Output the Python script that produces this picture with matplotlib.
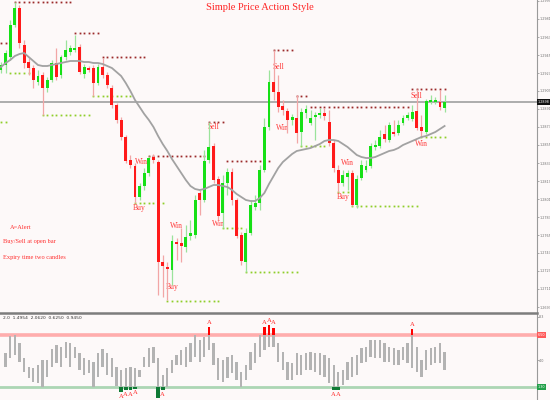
import numpy as np
import matplotlib
matplotlib.use("Agg")
import matplotlib.pyplot as plt

# ---------------- data (price candles) ----------------
opens = [1.2930, 1.2935, 1.2943, 1.2975, 1.2992, 1.2955, 1.2938, 1.2932, 1.2918, 1.2925,
         1.2912, 1.2920, 1.2937, 1.2925, 1.2943, 1.2948, 1.2950, 1.2953, 1.2926, 1.2932,
         1.2932, 1.2917, 1.2933, 1.2925, 1.2912, 1.2895, 1.2880, 1.2863, 1.2840, 1.2834,
         1.2803, 1.2814, 1.2827, 1.2843, 1.2838, 1.2738, 1.2733, 1.2730, 1.2758, 1.2757,
         1.2753, 1.2764, 1.2765, 1.2807, 1.2800, 1.2840, 1.2854, 1.2821, 1.2787, 1.2817,
         1.2828, 1.2800, 1.2765, 1.2738, 1.2767, 1.2793, 1.2797, 1.2830, 1.2873, 1.2918,
         1.2908, 1.2894, 1.2889, 1.2880, 1.2882, 1.2868, 1.2887, 1.2877, 1.2883, 1.2885,
         1.2887, 1.2878, 1.2857, 1.2830, 1.2817, 1.2823, 1.2827, 1.2795, 1.2822, 1.2830,
         1.2834, 1.2853, 1.2854, 1.2866, 1.2860, 1.2868, 1.2867, 1.2877, 1.2882, 1.2881,
         1.2889, 1.2873, 1.2868, 1.2898, 1.2898, 1.2898, 1.2892]
closes = [1.2935, 1.2947, 1.2975, 1.2992, 1.2957, 1.2937, 1.2932, 1.2920, 1.2924, 1.2912,
          1.2920, 1.2937, 1.2923, 1.2943, 1.2950, 1.2952, 1.2952, 1.2928, 1.2933, 1.2930,
          1.2917, 1.2933, 1.2925, 1.2915, 1.2895, 1.2880, 1.2863, 1.2839, 1.2835, 1.2803,
          1.2814, 1.2827, 1.2842, 1.2840, 1.2738, 1.2734, 1.2731, 1.2759, 1.2756, 1.2754,
          1.2763, 1.2767, 1.2800, 1.2800, 1.2839, 1.2853, 1.2820, 1.2784, 1.2817, 1.2828,
          1.2800, 1.2764, 1.2739, 1.2767, 1.2795, 1.2797, 1.2830, 1.2873, 1.2918, 1.2908,
          1.2893, 1.2890, 1.2880, 1.2883, 1.2867, 1.2888, 1.2891, 1.2882, 1.2885, 1.2887,
          1.2884, 1.2857, 1.2832, 1.2817, 1.2825, 1.2827, 1.2795, 1.2821, 1.2835, 1.2834,
          1.2854, 1.2855, 1.2863, 1.2861, 1.2875, 1.2866, 1.2875, 1.2882, 1.2885, 1.2888,
          1.2872, 1.2869, 1.2899, 1.2900, 1.2900, 1.2893, 1.2898]
highs = [1.2938, 1.2950, 1.2980, 1.2998, 1.2995, 1.2960, 1.2942, 1.2935, 1.2930, 1.2928,
         1.2923, 1.2940, 1.2952, 1.2945, 1.2960, 1.2955, 1.2965, 1.2956, 1.2936, 1.2934,
         1.2935, 1.2936, 1.2942, 1.2928, 1.2915, 1.2897, 1.2883, 1.2865, 1.2845, 1.2837,
         1.2817, 1.2832, 1.2844, 1.2846, 1.2840, 1.2745, 1.2738, 1.2765, 1.2762, 1.2772,
         1.2775, 1.2780, 1.2805, 1.2810, 1.2850, 1.2878, 1.2857, 1.2824, 1.2825, 1.2832,
         1.2832, 1.2802, 1.2768, 1.2772, 1.2800, 1.2805, 1.2835, 1.2882, 1.2930, 1.2950,
         1.2925, 1.2900, 1.2892, 1.2886, 1.2905, 1.2892, 1.2895, 1.2890, 1.2888, 1.2892,
         1.2892, 1.2890, 1.2860, 1.2835, 1.2830, 1.2830, 1.2830, 1.2825, 1.2840, 1.2840,
         1.2857, 1.2860, 1.2870, 1.2875, 1.2878, 1.2880, 1.2880, 1.2885, 1.2888, 1.2895,
         1.2911, 1.2885, 1.2901, 1.2905, 1.2903, 1.2910, 1.2905]
lows = [1.2927, 1.2927, 1.2940, 1.2973, 1.2952, 1.2932, 1.2925, 1.2912, 1.2915, 1.2885,
        1.2908, 1.2918, 1.2920, 1.2922, 1.2940, 1.2945, 1.2948, 1.2926, 1.2922, 1.2928,
        1.2904, 1.2915, 1.2922, 1.2912, 1.2892, 1.2877, 1.2860, 1.2837, 1.2832, 1.2797,
        1.2800, 1.2810, 1.2824, 1.2837, 1.2705, 1.2703, 1.2700, 1.2715, 1.2740, 1.2738,
        1.2748, 1.2760, 1.2762, 1.2785, 1.2798, 1.2837, 1.2817, 1.2780, 1.2772, 1.2805,
        1.2795, 1.2762, 1.2735, 1.2728, 1.2765, 1.2790, 1.2790, 1.2828, 1.2870, 1.2900,
        1.2888, 1.2885, 1.2867, 1.2875, 1.2857, 1.2854, 1.2882, 1.2875, 1.2860, 1.2882,
        1.2880, 1.2854, 1.2828, 1.2808, 1.2814, 1.2810, 1.2794, 1.2792, 1.2820, 1.2828,
        1.2832, 1.2850, 1.2852, 1.2858, 1.2858, 1.2864, 1.2865, 1.2875, 1.2880, 1.2879,
        1.2870, 1.2863, 1.2866, 1.2896, 1.2896, 1.2890, 1.2888]
ma_values = [1.2933, 1.2937, 1.2940, 1.2944, 1.2946, 1.2947, 1.2943, 1.2939, 1.2935, 1.2934,
             1.2934, 1.2935, 1.2936, 1.2937, 1.2938, 1.2939, 1.2939, 1.2939, 1.2938, 1.2938,
             1.2937, 1.2937, 1.2936, 1.2934, 1.2932, 1.2928, 1.2924, 1.2917, 1.2909, 1.2900,
             1.2893, 1.2886, 1.2880, 1.2873, 1.2864, 1.2856, 1.2849, 1.2841, 1.2834, 1.2827,
             1.2820, 1.2814, 1.2811, 1.2810, 1.2811, 1.2813, 1.2815, 1.2815, 1.2814, 1.2813,
             1.2810, 1.2806, 1.2803, 1.2800, 1.2799, 1.2799, 1.2802, 1.2807, 1.2816, 1.2824,
             1.2832, 1.2838, 1.2842, 1.2846, 1.2849, 1.2850, 1.2851, 1.2852, 1.2854, 1.2856,
             1.2859, 1.2860, 1.2860, 1.2859, 1.2856, 1.2853, 1.2849, 1.2845, 1.2843, 1.2842,
             1.2842, 1.2843, 1.2845, 1.2847, 1.2849, 1.2850, 1.2852, 1.2855, 1.2857, 1.2859,
             1.2861, 1.2863, 1.2864, 1.2866, 1.2868, 1.2871, 1.2874]
current_price = 1.2898

# resistance (sell) dotted levels: (price, first candle, last candle)
sell_levels = [(1.2998, 3, 15), (1.2957, 0, 1), (1.2967, 16, 21), (1.2943, 22, 31),
               (1.2844, 32, 44), (1.2878, 45, 48), (1.2839, 49, 58), (1.2950, 59, 63),
               (1.2904, 64, 66), (1.2893, 67, 88), (1.2911, 89, 96)]
# support (buy) dotted levels
buy_levels = [(1.2878, 0, 1), (1.2927, 2, 6), (1.2885, 9, 19), (1.2904, 20, 28),
              (1.2797, 29, 35), (1.2699, 36, 47), (1.2772, 48, 52), (1.2728, 53, 64),
              (1.2854, 65, 70), (1.2808, 73, 75), (1.2794, 76, 90), (1.2863, 91, 96)]

# signal labels: (text, candle index, price)
signal_text = ["Sell", "Win", "Sell", "Win", "Buy", "Win", "Buy", "Win",
               "Win", "Buy", "Sell", "Win"]
signal_idx = [60, 61, 46, 30.5, 30, 38, 37, 47, 75, 74, 90, 91]
signal_price = [1.2933, 1.2872, 1.2873, 1.2838, 1.2792, 1.2774, 1.2713, 1.2776,
                1.2837, 1.2803, 1.2904, 1.2856]

notes = ["A=Alert", "Buy/Sell at open bar", "Expiry time two candles"]

# ---------------- data (oscillator) ----------------
osc_top = [np.nan, 4.7, 6.4, 6.5, 5.7, 4.2, 3.3, 3.2, 3.5, 4.0,
           4.0, 5.1, 5.5, 5.3, 5.8, 5.7, 5.3, 4.7, 4.2, 4.0,
           3.8, 4.7, 5.1, 4.7, 4.2, 3.3, 3.0, 3.2, 3.3, 3.2,
           3.0, 4.3, 5.2, 5.3, 4.2, 2.5, 3.2, 4.0, 4.5, 5.0,
           5.3, 5.7, 6.5, 6.0, 6.3, 7.3, 5.7, 4.2, 4.0, 4.3,
           4.5, 3.8, 2.8, 3.5, 4.8, 5.7, 6.5, 7.3, 7.5, 7.2,
           5.7, 4.8, 3.8, 3.7, 4.7, 4.5, 4.7, 4.8, 4.7, 4.7,
           4.5, 4.2, 3.5, 2.8, 3.0, 3.8, 4.3, 4.5, 5.2, 5.3,
           6.0, 6.0, 6.0, 5.7, 5.3, 5.2, 5.0, 5.3, 5.7, 7.1,
           5.3, 4.0, 5.0, 5.2, 5.3, 5.7, 4.8]
osc_bottom = [np.nan, 3.3, 4.2, 4.5, 3.8, 2.8, 2.2, 1.8, 1.7, 1.3,
              2.3, 3.3, 3.7, 3.3, 4.2, 3.3, 4.2, 3.0, 2.5, 2.7,
              1.3, 2.3, 3.3, 2.5, 2.3, 1.4, 0.8, 1.0, 1.0, 1.1,
              2.3, 3.3, 3.3, 3.7, 0.2, 1.0, 1.3, 2.7, 3.5, 3.5,
              3.3, 3.8, 4.3, 3.8, 4.3, 5.0, 3.5, 2.0, 1.8, 2.2,
              2.7, 2.0, 1.3, 2.0, 3.0, 3.7, 4.3, 5.0, 5.3, 5.3,
              3.8, 3.0, 2.0, 2.0, 2.5, 2.5, 3.0, 3.0, 2.8, 2.5,
              2.3, 1.7, 1.0, 1.0, 1.5, 2.0, 2.3, 2.5, 3.7, 3.8,
              4.3, 4.2, 4.2, 3.8, 3.8, 3.5, 3.5, 4.0, 3.7, 3.2,
              2.8, 2.3, 3.0, 3.5, 3.7, 3.7, 3.0]
upper_level = 6.5
lower_level = 1.3
alert_up_idx = [45, 57, 58, 59, 89]
alert_dn_idx = [26, 27, 28, 29, 35, 72, 73]
osc_header = "2.0  1.4954  2.0620  0.6250  0.9450"

# ---------------- figure ----------------
BG = "#fdf9f9"
RED = "#ff1a1a"
GREEN = "#16e016"
SERIF = ["Liberation Serif", "DejaVu Serif"]
TICKFS = 2.4

fig = plt.figure(figsize=(5.5, 4), dpi=100)
fig.patch.set_facecolor(BG)
PW = 537 / 550
axm = fig.add_axes([0, 88 / 400, PW, 312 / 400])
axo = fig.add_axes([0, 0, PW, 87 / 400])
for ax in (axm, axo):
    ax.set_facecolor(BG)
    for s in ("left", "top", "bottom"):
        ax.spines[s].set_visible(False)
    ax.spines["right"].set_color("#9a9a9a")
    ax.spines["right"].set_linewidth(0.8)
    ax.set_xlim(-0.216, 116.0)
    ax.set_xticks([])
    ax.yaxis.tick_right()

n = len(opens)
xs = np.arange(n)
o = np.array(opens); c = np.array(closes); h = np.array(highs); l = np.array(lows)
up = c >= o

axm.set_ylim(1.3000 - 0.0312, 1.3000)

# price line
axm.axhline(current_price, color="#a6a6a6", lw=1.3, zorder=1)

# dotted levels
for (p, a, b) in sell_levels:
    xx = np.arange(a, b + 1)
    axm.plot(xx, np.full(len(xx), p), ls="none", marker="s", ms=1.3,
             color="#9b2a2a", mew=0, zorder=2)
for (p, a, b) in buy_levels:
    xx = np.arange(a, b + 1)
    axm.plot(xx, np.full(len(xx), p), ls="none", marker="s", ms=1.3,
             color="#8fce2a", mew=0, zorder=2)

# signal labels (behind candles)
for t, i, p in zip(signal_text, signal_idx, signal_price):
    axm.text(i, p, t, ha="center", va="center", fontsize=5.5, family=SERIF,
             color="#ff3b3b", zorder=2)

# wicks
axm.vlines(xs[up], l[up], h[up], color="#9be39b", lw=0.9, zorder=3)
axm.vlines(xs[~up], l[~up], h[~up], color="#f2a6a6", lw=0.9, zorder=3)
# bodies
body_lo = np.minimum(o, c)
body_h = np.maximum(np.abs(c - o), 0.00015)
axm.bar(xs[up], body_h[up], bottom=body_lo[up], width=0.62, color=GREEN,
        linewidth=0, zorder=4)
axm.bar(xs[~up], body_h[~up], bottom=body_lo[~up], width=0.62, color=RED,
        linewidth=0, zorder=4)

# moving average
axm.plot(xs, ma_values, color="#a2a2a2", lw=1.3, zorder=5)

# price axis
ticks = 1.2999 - 0.0018 * np.arange(18)
axm.set_yticks(ticks)
axm.set_yticklabels([f"{v:.4f}" for v in ticks])
axm.tick_params(axis="y", direction="out", length=1.2, width=0.5, pad=0.4,
                labelsize=TICKFS, colors="#8a8a8a", labelcolor="#707070")

# current price tag
fig.text(538 / 550, 1 - 102 / 400, f"{current_price:.4f}", fontsize=TICKFS,
         color="white", ha="left", va="center",
         bbox=dict(boxstyle="square,pad=0.2", fc="#111111", ec="none"))

# title and notes
fig.text(260 / 550, 1 - 7 / 400, "Simple Price Action Style", ha="center",
         va="center", fontsize=7.5, family=SERIF, color="#ff2525")
note_pos = [(10, 228), (3, 241), (3, 258)]
for t, (px, py) in zip(notes, note_pos):
    fig.text(px / 550, 1 - py / 400, t, ha="left", va="center", fontsize=4.6,
             family=SERIF, color="#ff3030")

# ---------------- oscillator ----------------
axo.set_ylim(0, 8.7)
axo.axhline(upper_level, color="#ffadad", lw=2.6, zorder=1)
axo.axhline(lower_level, color="#acd6b4", lw=2.0, zorder=1)
top = np.array(osc_top); bot = np.array(osc_bottom)
ok = ~np.isnan(top)
gt = np.minimum(top, upper_level)
gb = np.maximum(bot, lower_level)
axo.bar(xs[ok], (gt - gb)[ok], bottom=gb[ok], width=0.5, color="#b3b3b3",
        linewidth=0, zorder=2)
hi_m = ok & (top > upper_level)
axo.bar(xs[hi_m], (top - np.maximum(bot, upper_level))[hi_m],
        bottom=np.maximum(bot, upper_level)[hi_m], width=0.5, color="#ff0000",
        linewidth=0, zorder=3)
lo_m = ok & (bot < lower_level)
axo.bar(xs[lo_m], (np.minimum(top, lower_level) - bot)[lo_m], bottom=bot[lo_m],
        width=0.8, color="#0f7a35", linewidth=0, zorder=3)
for i in alert_up_idx:
    axo.text(i, top[i] + 0.25, "A", ha="center", va="bottom", fontsize=4.8,
             family=SERIF, color="#ff2a2a", zorder=4)
for i in alert_dn_idx:
    axo.text(i, bot[i] - 0.15, "A", ha="center", va="top", fontsize=4.8,
             family=SERIF, color="#ff2a2a", zorder=4)
axo.text(3 / 537, 1 - 3 / 87, osc_header, transform=axo.transAxes, ha="left",
         va="top", fontsize=3.2, color="#333333")
axo.set_yticks([8.3, 4.0])
axo.set_yticklabels(["8.3", "4.0"])
axo.tick_params(axis="y", direction="out", length=1.2, width=0.5, pad=0.4,
                labelsize=TICKFS, colors="#8a8a8a", labelcolor="#707070")
fig.text(538 / 550, upper_level / 8.7 * 87 / 400, f"{upper_level:.2f}",
         fontsize=TICKFS, color="white", ha="left", va="center",
         bbox=dict(boxstyle="square,pad=0.2", fc="#ff5a5a", ec="none"))
fig.text(538 / 550, lower_level / 8.7 * 87 / 400, f"{lower_level:.2f}",
         fontsize=TICKFS, color="white", ha="left", va="center",
         bbox=dict(boxstyle="square,pad=0.2", fc="#23a04a", ec="none"))

# panel separator
fig.add_artist(plt.Line2D([0, PW], [87.5 / 400, 87.5 / 400], color="#7d7d7d",
                          lw=1.8, transform=fig.transFigure))

fig.savefig("out.png", dpi=100, facecolor=BG)
